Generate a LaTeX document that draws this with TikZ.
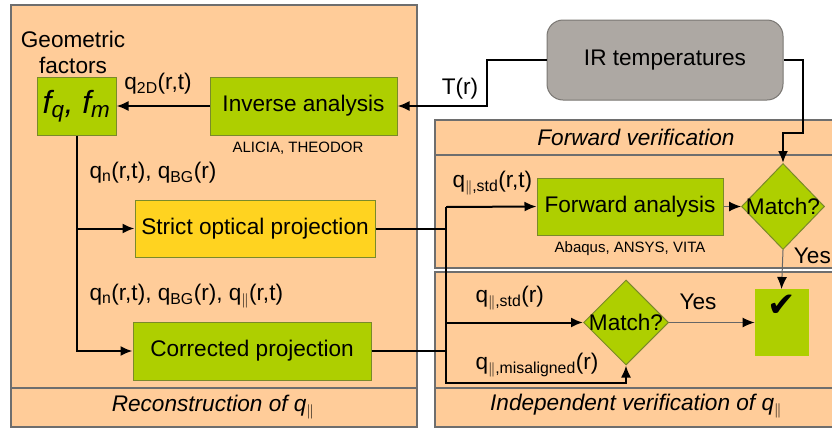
\documentclass[tikz,border=0pt]{standalone}
\usepackage{fontspec}
\setmainfont{Liberation Sans}
\newfontfamily\checkfont{DejaVu Sans}
\usepackage{xcolor}
\usepackage{tikz}
\usetikzlibrary{shapes,arrows.meta,positioning,calc}
\definecolor{panelorange}{HTML}{FFCC99}
\definecolor{boxgreen}{HTML}{AECF00}
\definecolor{boxyellow}{HTML}{FFD320}
\definecolor{irgray}{HTML}{ADA8A3}
\definecolor{boxedge}{HTML}{7A8A2A}
\definecolor{paneledge}{HTML}{6E6E6E}
\newcommand{\qpar}{q\textsubscript{$\|$}}
\tikzset{
  panel/.style={draw=paneledge, fill=panelorange, line width=1.2pt},
  box/.style={draw=boxedge, fill=boxgreen, inner sep=0pt, line width=1pt},
  matchbox/.style={diamond, draw=boxedge, fill=boxgreen, inner sep=0pt, line width=1pt},
  line/.style={draw=black, line width=2pt},
  arr/.style={line, -{Latex[length=12pt,width=10pt]}},
  thinarr/.style={draw=black!60, line width=1pt, -{Latex[length=12pt,width=10pt,black]}},
  small/.style={font=\fontsize{15}{18}\selectfont},
  bandtext/.style={font=\fontsize{22.6}{26}\selectfont\itshape}
}

\begin{document}
\begin{tikzpicture}[x=1pt, y=-1pt, font=\fontsize{22.6}{26}\selectfont]
    \clip (0,0) rectangle (832,429);
    % panels
    \draw[panel] (11,5) rectangle (417,427);
    \draw[draw=paneledge, line width=1.2pt] (11,388) -- (417,388);
    \draw[panel] (435,120) rectangle (850,268);
    \draw[draw=paneledge, line width=1.2pt] (435,155) -- (850,155);
    \draw[panel] (435,272) rectangle (850,427);
    \draw[draw=paneledge, line width=1.2pt] (435,388) -- (850,388);
    \node[bandtext] (recon) at (213,407) {Reconstruction of \qpar};
    \node[bandtext] (fwdver) at (636,137) {Forward verification};
    \node[bandtext] (indver) at (636,406) {Independent verification of \qpar};

    % boxes
    \node[draw=irgray!70!black, fill=irgray, rounded corners=16pt, line width=1pt,
          minimum width=236, minimum height=80] (ir) at (665,60) {IR temperatures};
    \node[box, minimum width=79, minimum height=58] (fq) at (76.5,106)
        {\fontsize{32}{34}\selectfont\itshape f\textsubscript{q}, f\textsubscript{m}};
    \node[align=center] (geo) at (73,52) {Geometric\\factors};
    \node[box, minimum width=187, minimum height=58] (inv) at (303.5,106) {Inverse analysis};
    \node[small] (alicia) at (298,148) {ALICIA, THEODOR};
    \node[box, fill=boxyellow, minimum width=240, minimum height=57] (strict) at (255,228.5)
        {Strict optical projection};
    \node[box, minimum width=238, minimum height=58] (corr) at (252,351) {Corrected projection};
    \node[box, minimum width=186, minimum height=57] (fwd) at (630,206.5) {Forward analysis};
    \node[small] (abaqus) at (630,249) {Abaqus, ANSYS, VITA};
    \node[matchbox, minimum width=83, minimum height=86] (m1) at (783,206.5) {};
    \node (m1text) at (m1) {Match?};
    \node[matchbox, minimum width=85, minimum height=85] (m2) at (626,322.5) {};
    \node (m2text) at (m2) {Match?};
    \node[box, draw=boxgreen, minimum width=53, minimum height=66] (chk) at (781.5,322.5) {};
    \node[font=\checkfont\fontsize{34}{34}\selectfont] (tick) at (782,306) {✔};

    % labels
    \node (temp) at (460,89) {T(r)};
    \node (q2d) at (158,84) {q\textsubscript{2D}(r,t)};
    \node[anchor=west] (qnbg) at (86,173) {q\textsubscript{n}(r,t), q\textsubscript{BG}(r)};
    \node[anchor=west] (qnbgpar) at (86,296) {q\textsubscript{n}(r,t), q\textsubscript{BG}(r), \qpar(r,t)};
    \node[anchor=west] (qstdrt) at (449,183) {q\textsubscript{$\|$,std}(r,t)};
    \node[anchor=west] (qstdr) at (472,298) {q\textsubscript{$\|$,std}(r)};
    \node[anchor=west] (qmis) at (472,365) {q\textsubscript{$\|$,misaligned}(r)};
    \node (yes2) at (698,302) {Yes};
    \node[anchor=east, inner sep=1pt] (yes1) at (832,256) {Yes};

    % connectors
    \coordinate (bustop) at (446,207);
    \coordinate (busbot) at (446,383);
    \draw[arr] (ir.west) -- ++(-60,0) |- (inv.east);
    \draw[arr] (ir.east) -- ++(19,0) -- ++(0,73) -| (m1.north);
    \draw[arr] (inv.west) -- (fq.east);
    \draw[arr] (fq.south) |- (corr.west);
    \draw[arr] (fq.south |- strict.west) -- (strict.west);
    \draw[line] (strict.east) -- (strict.east -| bustop);
    \draw[line] (corr.east) -- (corr.east -| bustop);
    \draw[arr] (bustop) -- (fwd.west);
    \draw[arr] (bustop) |- (m2.west);
    \draw[arr] (m2.west -| bustop) -- (busbot) -| (m2.south);
    \draw[thinarr] (fwd.east) -- (m1.west);
    \draw[thinarr] (m1.south) -- (chk.north);
    \draw[thinarr] (m2.east) -- (chk.west);
\end{tikzpicture}
\end{document}
